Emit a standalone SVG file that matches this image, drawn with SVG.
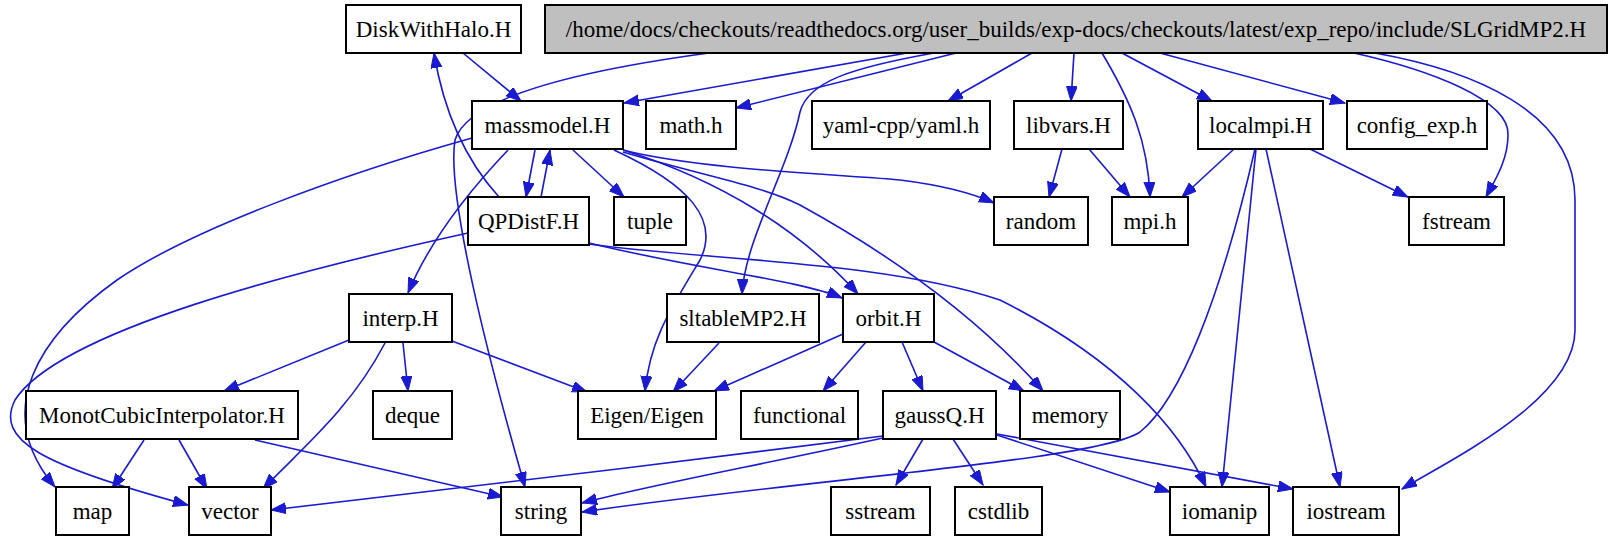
<svg xmlns="http://www.w3.org/2000/svg" width="1614" height="539" viewBox="0 0 1614 539">
<defs>
<marker id="a" markerUnits="userSpaceOnUse" markerWidth="16" markerHeight="12" refX="15" refY="5.5" orient="auto"><path d="M0,0 L15,5.5 L0,11 z" fill="#1a1ad0" stroke="#1a1ad0"/></marker>
<style>
.n rect{fill:#fff;stroke:#000;stroke-width:2}
.r rect{fill:#bfbfbf}
text{font-family:"Liberation Serif",serif;font-size:23px;text-anchor:middle;fill:#000}
#edges path{fill:none;stroke:#1a1ad0;stroke-width:1.6;marker-end:url(#a)}
</style>
</defs>
<rect width="1614" height="539" fill="#fff"/>
<g id="edges">
<path d="M907,53 L624,103"/>
<path d="M956,53 L736,108"/>
<path d="M934,53 C850,68 808,82 800,112 C788,170 745,240 742,294"/>
<path d="M709,53 C620,65 470,90 455,140 C445,200 500,400 525,487"/>
<path d="M1032,53 L948,101"/>
<path d="M1074,53 L1071,101"/>
<path d="M1102,53 C1130,100 1148,140 1150,197"/>
<path d="M1122,53 L1212,101"/>
<path d="M1160,53 L1345,103"/>
<path d="M1354,53 C1430,70 1510,100 1508,135 C1508,160 1495,180 1486,197"/>
<path d="M1375,53 C1470,70 1575,110 1575,200 L1575,330 C1575,400 1450,460 1402,489"/>
<path d="M463,53 L521,101"/>
<path d="M499,197 C470,165 445,120 434,53"/>
<path d="M535,150 L526,197"/>
<path d="M541,197 L550,150"/>
<path d="M573,150 L624,197"/>
<path d="M508,150 C470,190 430,240 408,293"/>
<path d="M472,138 C340,175 190,230 117,280 C40,335 -10,410 55,487"/>
<path d="M468,233 C300,270 60,330 15,400 C-5,440 40,465 188,505"/>
<path d="M614,150 C690,185 720,220 700,260 C670,310 650,340 645,391"/>
<path d="M623,150 C720,180 800,230 858,294"/>
<path d="M623,152 C700,175 760,185 800,205 C900,260 980,320 1043,391"/>
<path d="M623,150 C700,170 850,175 900,180 C940,185 970,192 994,203"/>
<path d="M589,243 C700,270 800,280 842,298"/>
<path d="M589,244 C700,260 880,260 1000,300 C1120,360 1180,430 1206,487"/>
<path d="M349,340 L224,391"/>
<path d="M385,343 C350,410 300,450 263,489"/>
<path d="M403,343 L408,391"/>
<path d="M452,341 L587,392"/>
<path d="M719,343 L673,392"/>
<path d="M843,334 L714,391"/>
<path d="M866,342 L823,391"/>
<path d="M902,342 L923,391"/>
<path d="M934,342 L1024,391"/>
<path d="M144,440 L112,489"/>
<path d="M179,440 L207,489"/>
<path d="M255,440 L503,497"/>
<path d="M883,436 C700,460 400,495 271,510"/>
<path d="M883,438 C760,465 650,485 582,503"/>
<path d="M1255,149 C1220,300 1180,400 1140,432 C1100,460 800,480 582,512"/>
<path d="M923,439 L896,485"/>
<path d="M953,439 L983,485"/>
<path d="M997,435 L1170,492"/>
<path d="M997,434 L1293,489"/>
<path d="M1062,149 L1049,197"/>
<path d="M1089,149 L1130,197"/>
<path d="M1234,149 L1182,197"/>
<path d="M1310,149 L1408,197"/>
<path d="M1256,149 L1222,487"/>
<path d="M1266,149 L1340,487"/>
</g>
<g id="root" class="n r"><rect x="545" y="5" width="1062" height="48"/><text x="1076" y="37">/home/docs/checkouts/readthedocs.org/user_builds/exp-docs/checkouts/latest/exp_repo/include/SLGridMP2.H</text></g>
<g id="disk" class="n"><rect x="346" y="5" width="175" height="48"/><text x="433.5" y="37">DiskWithHalo.H</text></g>
<g id="massmodel" class="n"><rect x="472" y="101" width="151" height="48"/><text x="547.5" y="133">massmodel.H</text></g>
<g id="math" class="n"><rect x="646" y="101" width="90" height="48"/><text x="691" y="133">math.h</text></g>
<g id="yaml" class="n"><rect x="812" y="101" width="178" height="48"/><text x="901" y="133">yaml-cpp/yaml.h</text></g>
<g id="libvars" class="n"><rect x="1014" y="101" width="109" height="48"/><text x="1068.5" y="133">libvars.H</text></g>
<g id="localmpi" class="n"><rect x="1198" y="101" width="125" height="48"/><text x="1260.5" y="133">localmpi.H</text></g>
<g id="config" class="n"><rect x="1347" y="101" width="140" height="48"/><text x="1417" y="133">config_exp.h</text></g>
<g id="qpdistf" class="n"><rect x="468" y="197" width="121" height="48"/><text x="528.5" y="229">QPDistF.H</text></g>
<g id="tuple" class="n"><rect x="614" y="197" width="72" height="48"/><text x="650" y="229">tuple</text></g>
<g id="random" class="n"><rect x="994" y="197" width="94" height="48"/><text x="1041" y="229">random</text></g>
<g id="mpi" class="n"><rect x="1112" y="197" width="76" height="48"/><text x="1150" y="229">mpi.h</text></g>
<g id="fstream" class="n"><rect x="1409" y="197" width="95" height="48"/><text x="1456.5" y="229">fstream</text></g>
<g id="interp" class="n"><rect x="349" y="294" width="103" height="48"/><text x="400.5" y="326">interp.H</text></g>
<g id="sltable" class="n"><rect x="667" y="294" width="152" height="48"/><text x="743" y="326">sltableMP2.H</text></g>
<g id="orbit" class="n"><rect x="843" y="294" width="91" height="48"/><text x="888.5" y="326">orbit.H</text></g>
<g id="monot" class="n"><rect x="26" y="391" width="272" height="48"/><text x="162" y="423">MonotCubicInterpolator.H</text></g>
<g id="deque" class="n"><rect x="373" y="391" width="79" height="48"/><text x="412.5" y="423">deque</text></g>
<g id="eigen" class="n"><rect x="578" y="391" width="138" height="48"/><text x="647" y="423">Eigen/Eigen</text></g>
<g id="functional" class="n"><rect x="741" y="391" width="117" height="48"/><text x="799.5" y="423">functional</text></g>
<g id="gaussq" class="n"><rect x="883" y="391" width="113" height="48"/><text x="939.5" y="423">gaussQ.H</text></g>
<g id="memory" class="n"><rect x="1020" y="391" width="100" height="48"/><text x="1070" y="423">memory</text></g>
<g id="map" class="n"><rect x="56" y="487" width="73" height="48"/><text x="92.5" y="519">map</text></g>
<g id="vector" class="n"><rect x="189" y="487" width="82" height="48"/><text x="230" y="519">vector</text></g>
<g id="string" class="n"><rect x="501" y="487" width="80" height="48"/><text x="541" y="519">string</text></g>
<g id="sstream" class="n"><rect x="831" y="487" width="99" height="48"/><text x="880.5" y="519">sstream</text></g>
<g id="cstdlib" class="n"><rect x="955" y="487" width="87" height="48"/><text x="998.5" y="519">cstdlib</text></g>
<g id="iomanip" class="n"><rect x="1170" y="487" width="99" height="48"/><text x="1219.5" y="519">iomanip</text></g>
<g id="iostream" class="n"><rect x="1293" y="487" width="106" height="48"/><text x="1346" y="519">iostream</text></g>
</svg>
